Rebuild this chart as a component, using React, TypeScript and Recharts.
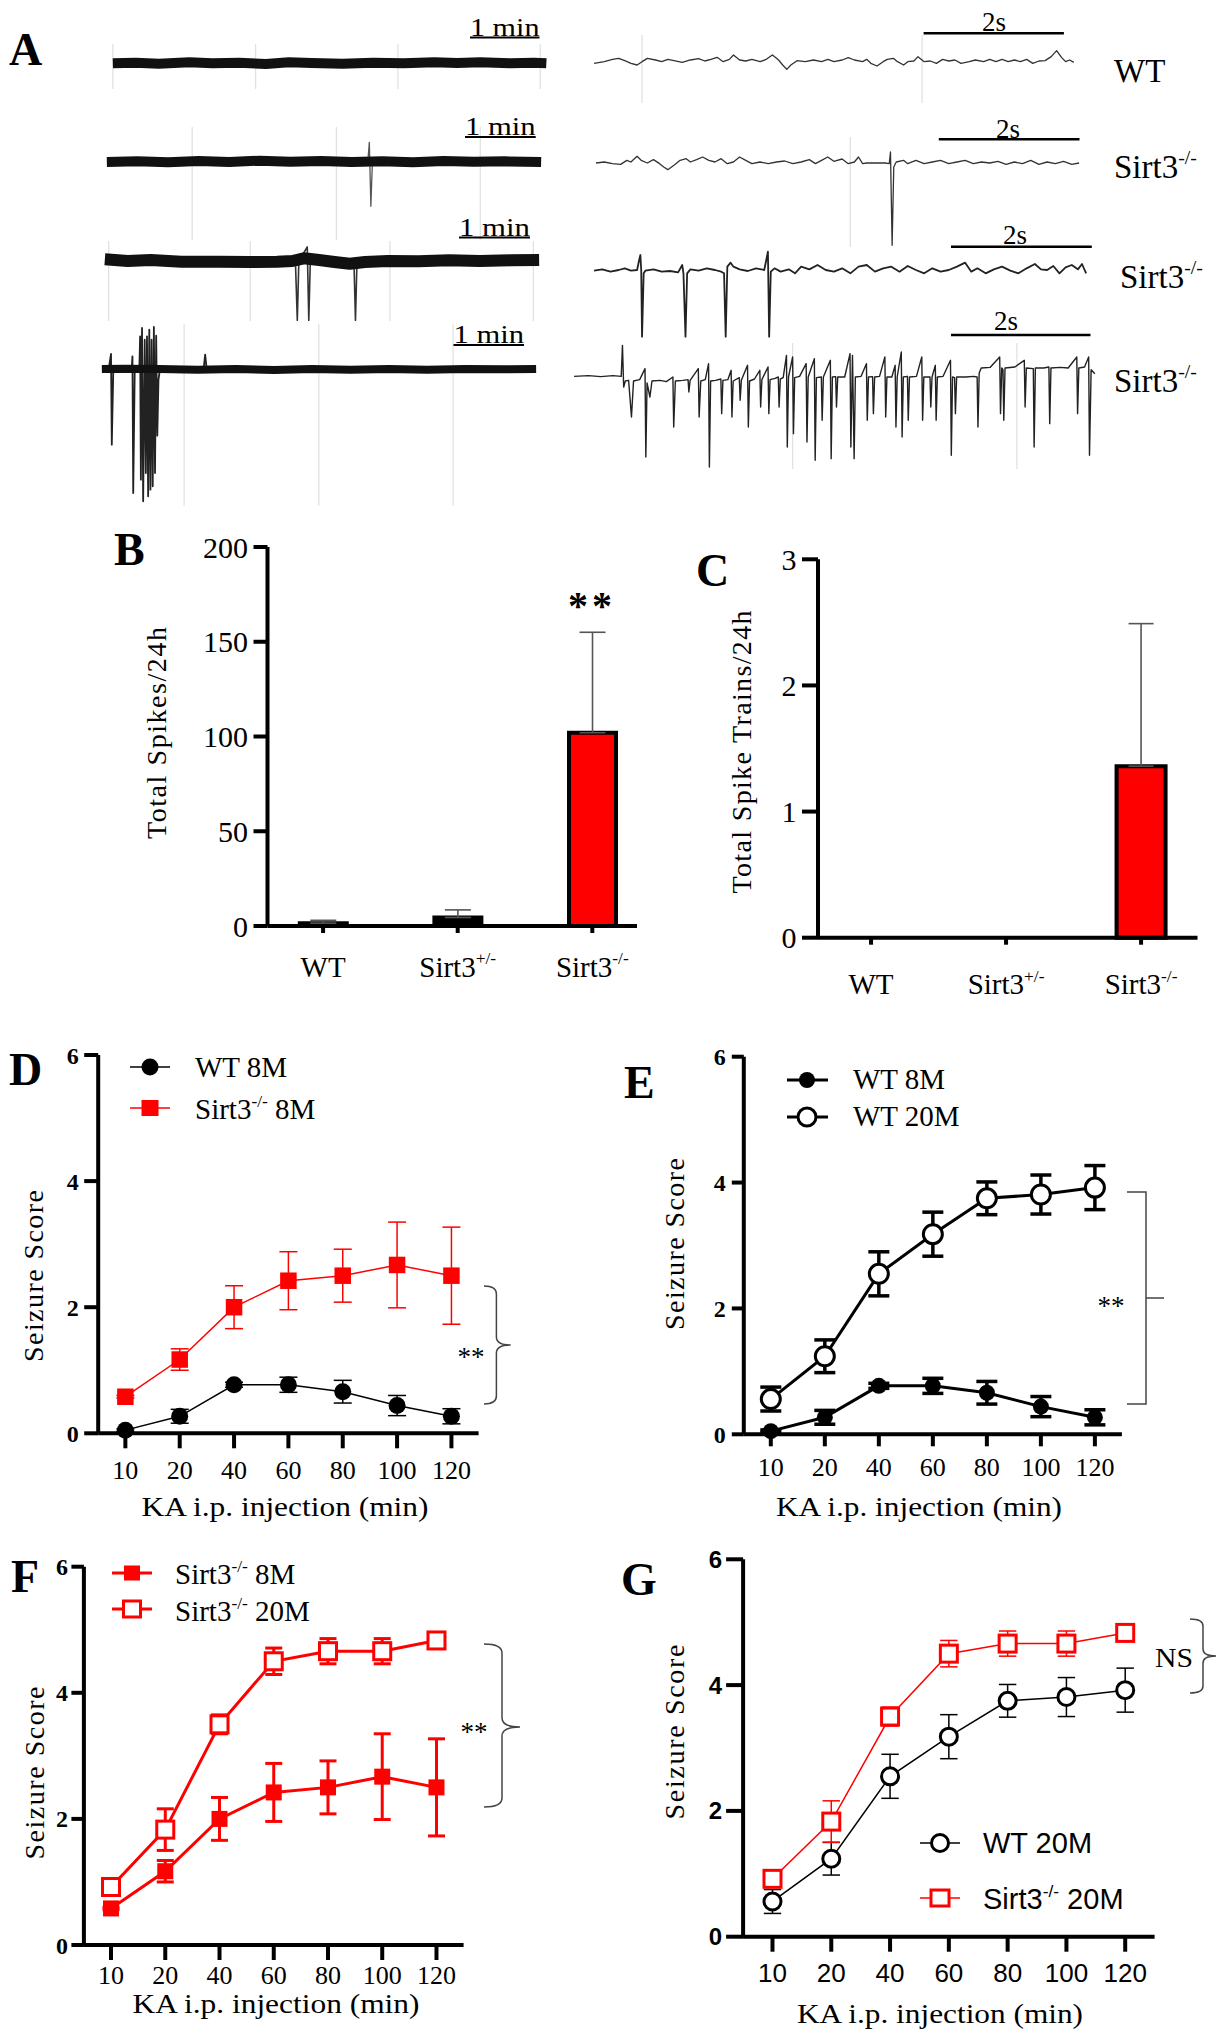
import React from 'react';
import { LineChart, Line, BarChart, Bar, XAxis, YAxis, ErrorBar, ReferenceLine, Cell } from 'recharts';

type Pt = [number, number];

const SERIF = '"Liberation Serif", "Times New Roman", Times, serif';
const SANS = '"Liberation Sans", Arial, Helvetica, sans-serif';
const RED = '#ff0000';

// ---------------- Panel A: EEG traces, samples ----------------
// [time, amplitude] in figure sample units, amplitude positive = up
const longWt: Pt[] = [[0,0],[60,2],[120,-1],[200,3],[260,0],[330,2],[400,-2],[460,3],[520,1],[600,-1],[680,2],[760,0],[840,3],[900,1],[960,3],[1040,0],[1100,2],[1133,0]];
const longKoA: Pt[] = [[0,0],[80,2],[160,-1],[240,3],[320,0],[400,4],[480,1],[560,3],[640,0],[720,2],[800,-1],[880,3],[960,1],[1040,2],[1135,0]];
const longKoASpikes: Pt[] = [[682,0],[686,59],[690,-133],[694,0]];
const longKoB: Pt[] = [[0,5],[60,0],[120,3],[200,-2],[300,-2],[380,-3],[450,-2],[490,0],[520,8],[560,3],[600,-3],[640,-8],[680,-3],[740,0],[820,-1],[900,2],[980,0],[1060,2],[1135,3]];
const longKoBSpikes: Pt[] = [[498,0],[503,-178],[507,0],[529,42],[533,-178],[537,0],[651,0],[655,-178],[659,0]];
const longKoC: Pt[] = [[0,0],[60,1],[150,0],[250,-2],[350,0],[450,-3],[550,0],[650,-2],[750,0],[850,-2],[950,0],[1050,-1],[1135,0]];
const longKoCSpikes: Pt[] = [[18,0],[24,45],[26,-227],[30,0],[78,0],[80,38],[82,-372],[86,0],[98,0],[100,98],[102,-332],[105,123],[108,-397],[112,88],[115,-312],[118,98],[121,-382],[124,118],[127,-362],[130,88],[133,-352],[136,126],[139,-312],[142,100],[145,-200],[148,-32],[152,0],[266,0],[270,43],[274,0]];

const fastWt: Pt[] = [[0,-5],[25,0],[45,7],[60,10],[75,3],[90,-5],[105,-10],[117,0],[130,10],[150,5],[165,0],[180,7],[195,3],[215,-2],[235,5],[255,9],[270,2],[285,7],[300,13],[315,0],[330,7],[340,20],[355,5],[370,2],[385,7],[405,0],[420,7],[435,20],[450,5],[460,-10],[470,-23],[480,-10],[495,3],[515,0],[535,5],[555,0],[570,7],[585,0],[605,5],[620,12],[635,5],[655,0],[665,7],[675,-5],[690,-13],[705,0],[715,7],[730,10],[740,0],[755,-10],[765,0],[780,2],[790,15],[805,0],[820,2],[835,-5],[850,7],[865,2],[880,5],[895,-5],[915,0],[930,5],[950,0],[965,7],[980,0],[995,7],[1010,0],[1025,5],[1040,0],[1055,7],[1070,-5],[1085,2],[1100,3],[1115,15],[1128,33],[1140,13],[1150,0],[1160,5],[1170,-2]];
const fastKoA: Pt[] = [[0,2],[20,5],[40,0],[60,-2],[75,10],[85,5],[100,22],[110,10],[125,2],[140,12],[155,0],[165,-10],[175,-18],[190,-5],[205,10],[220,15],[230,5],[245,12],[260,20],[275,10],[290,5],[305,15],[320,0],[335,5],[350,20],[365,10],[380,0],[400,5],[420,0],[440,5],[460,8],[480,0],[500,5],[520,12],[535,0],[550,10],[565,20],[580,7],[600,14],[615,0],[630,5],[640,20],[650,0],[660,2],[680,2],[705,2],[715,0],[718,35],[722,-245],[726,-10],[732,5],[750,10],[760,0],[780,10],[800,0],[820,5],[840,10],[860,0],[880,5],[900,10],[920,0],[940,5],[960,2],[980,7],[1000,-2],[1020,5],[1040,0],[1060,10],[1080,-2],[1100,5],[1120,0],[1140,7],[1160,-2],[1178,2]];
const fastKoB: Pt[] = [[0,-2],[20,2],[40,-5],[60,0],[75,5],[90,-2],[105,0],[110,30],[113,45],[115,0],[117,-200],[121,-10],[125,-2],[145,2],[165,-5],[185,-3],[205,-7],[215,15],[218,-10],[223,-200],[227,-10],[235,2],[255,-2],[275,5],[295,0],[310,-5],[317,-10],[321,-200],[325,10],[333,22],[340,10],[355,2],[375,-3],[395,5],[415,0],[420,30],[424,55],[427,-200],[431,-5],[440,5],[455,-5],[475,2],[490,-10],[505,10],[525,2],[545,15],[565,0],[585,-5],[605,5],[625,-10],[645,10],[665,15],[685,-5],[705,5],[725,10],[745,-5],[765,12],[785,0],[805,-10],[825,5],[845,-5],[865,0],[885,10],[905,22],[920,-5],[935,5],[955,-10],[975,2],[995,10],[1015,-2],[1035,-10],[1055,5],[1075,18],[1090,2],[1105,0],[1120,12],[1135,-10],[1150,8],[1165,15],[1180,2],[1190,18],[1200,-10]];
const fastKoC: Pt[] = [[-15,0],[20,2],[50,-1],[80,2],[100,0],[103,93],[106,-32],[110,-14],[118,-12],[125,-122],[130,-14],[145,-10],[158,23],[160,-242],[163,-20],[170,-62],[175,-14],[195,-12],[210,-16],[226,-2],[228,-152],[232,-14],[250,-12],[263,-10],[265,-47],[268,-12],[288,23],[290,-122],[294,-14],[305,-10],[313,38],[315,-272],[318,-14],[330,-12],[343,-8],[345,-112],[348,-12],[360,-10],[368,18],[370,-122],[373,-14],[388,-4],[390,-72],[393,-12],[408,33],[410,-152],[413,-14],[425,-8],[438,18],[440,-92],[443,-10],[458,28],[460,-112],[463,-10],[475,-6],[483,-2],[485,-92],[488,-8],[495,-4],[503,63],[505,-212],[508,-2],[518,58],[520,-172],[523,-4],[535,0],[551,38],[553,-197],[556,-2],[571,53],[573,-252],[576,-4],[588,-2],[590,-132],[593,-2],[610,48],[612,-247],[615,-2],[623,-1],[625,-92],[628,-2],[645,-2],[658,68],[660,-212],[664,63],[668,-247],[671,-2],[685,0],[698,38],[700,-132],[703,-2],[713,-1],[715,-112],[718,-2],[730,0],[743,58],[745,-122],[748,-2],[760,-2],[768,33],[770,-152],[773,-2],[783,73],[785,-182],[788,-2],[798,0],[800,-132],[803,-2],[820,0],[833,58],[835,-132],[838,-2],[853,-2],[855,-92],[858,-2],[866,33],[868,-132],[871,-2],[885,0],[903,48],[905,-237],[908,-2],[913,-4],[915,-112],[918,-2],[940,-2],[960,0],[968,-2],[970,-152],[973,10],[978,25],[1000,27],[1023,58],[1025,-112],[1028,25],[1031,20],[1033,-132],[1036,25],[1060,28],[1083,48],[1085,-92],[1088,25],[1105,23],[1107,-212],[1110,25],[1130,25],[1143,28],[1145,-142],[1148,25],[1170,27],[1190,25],[1211,58],[1213,-112],[1216,25],[1230,28],[1240,58],[1242,-237],[1246,20],[1255,8]];

// ---------------- Panels B / C ----------------
const genoBase = ['WT', 'Sirt3', 'Sirt3'];
const genoSup = ['', '+/-', '-/-'];
const genoPos = [1, 2, 3];
const spikesMean = [1.5, 4.5, 102];
const spikesErr = [1.5, 4, 53];
const trainsMean = [0, 0, 1.36];
const trainsErr = [0, 0, 1.13];
const barFill = ['#000000', '#000000', RED];
const spikeTicks = [0, 50, 100, 150, 200];
const trainTicks = [0, 1, 2, 3];

// ---------------- Panels D–G ----------------
const kaMinutes = ['10', '20', '40', '60', '80', '100', '120'];
const scoreTicks = [0, 2, 4, 6];
const wt8m = [0.05, 0.27, 0.77, 0.77, 0.66, 0.44, 0.27];
const wt8mErr = [0.02, 0.11, 0.04, 0.12, 0.18, 0.16, 0.12];
const ko8m = [0.58, 1.17, 2.0, 2.42, 2.5, 2.67, 2.5];
const ko8mErr = [0.02, 0.17, 0.34, 0.46, 0.42, 0.68, 0.77];
const wt20m = [0.56, 1.24, 2.55, 3.18, 3.75, 3.81, 3.92];
const wt20mErr = [0.19, 0.26, 0.35, 0.35, 0.26, 0.31, 0.35];
const ko20m = [0.92, 1.83, 3.5, 4.5, 4.66, 4.66, 4.83];
const ko20mErr = [0.08, 0.33, 0.15, 0.21, 0.2, 0.2, 0.12];

const toRows = (pts: Pt[]) => pts.map(([t, v]) => ({ t, v }));
const AX = { stroke: '#000', strokeWidth: 4 };

// layout of each EEG trace: origin (px) of time 0 / baseline, horizontal and vertical units per px
const LFX = 2.6133;
const RFX = 2.4386;
const traces = [
  { ox: 112.9, oy: 63.3, fx: LFX, xd: [-10, 1145], yd: [-78, 58], grid: [0, 373, 745, 1117], series: [{ d: longWt, c: '#111', w: 10 }] },
  { ox: 107.1, oy: 162.3, fx: LFX, xd: [-10, 1145], yd: [-235, 105], grid: [223, 600, 976], series: [{ d: longKoASpikes, c: '#555', w: 1.3 }, { d: longKoA, c: '#111', w: 10 }] },
  { ox: 105.2, oy: 260.7, fx: LFX, xd: [-10, 1145], yd: [-182, 60], grid: [10, 380, 745, 1120], series: [{ d: longKoBSpikes, c: '#333', w: 1.6 }, { d: longKoB, c: '#111', w: 12 }] },
  { ox: 101.4, oy: 369.3, fx: LFX, xd: [-10, 1145], yd: [-410, 135], grid: [215, 567, 918], series: [{ d: longKoCSpikes, c: '#222', w: 1.8 }, { d: longKoC, c: '#111', w: 8 }] },
  { ox: 594.4, oy: 61.7, fx: RFX, xd: [-5, 1175], yd: [-125, 80], grid: [117, 800], series: [{ d: fastWt, c: '#333', w: 1.3 }] },
  { ox: 596.4, oy: 163.3, fx: RFX, xd: [-5, 1185], yd: [-250, 80], grid: [620], series: [{ d: fastKoA, c: '#333', w: 1.3 }] },
  { ox: 594.4, oy: 270, fx: RFX, xd: [-5, 1205], yd: [-205, 60], grid: [], series: [{ d: fastKoB, c: '#222', w: 1.8 }] },
  { ox: 580, oy: 376, fx: RFX, xd: [-20, 1260], yd: [-280, 100], grid: [518, 1065], series: [{ d: fastKoC, c: '#222', w: 1.4 }] },
];

function TraceChart({ ox, oy, fx, xd, yd, grid, series }: any) {
  const left = ox + xd[0] / fx;
  const width = (xd[1] - xd[0]) / fx;
  const top = oy - yd[1] / 3;
  const height = (yd[1] - yd[0]) / 3;
  return (
    <div style={{ position: 'absolute', left, top, width, height }}>
      <LineChart width={width} height={height} margin={{ top: 0, right: 0, bottom: 0, left: 0 }}>
        <XAxis type="number" dataKey="t" domain={xd} hide />
        <YAxis type="number" dataKey="v" domain={yd} hide />
        {grid.map((g: number, i: number) => (
          <ReferenceLine key={'g' + i} x={g} stroke="#e2e2e2" strokeWidth={1.3} />
        ))}
        {series.map((s: any, i: number) => (
          <Line key={'s' + i} data={toRows(s.d)} dataKey="v" type="linear" stroke={s.c} strokeWidth={s.w}
            dot={false} activeDot={false} isAnimationActive={false} strokeLinejoin="round" />
        ))}
      </LineChart>
    </div>
  );
}

function GenoTick(props: any) {
  const { x, y, payload } = props;
  const k = genoPos.indexOf(payload.value);
  const s = 29;
  if (k < 0) return null;
  return (
    <text x={x} y={y + 0.71 * s} textAnchor="middle" fontSize={s} fontFamily={SERIF} fill="#000">
      {genoBase[k]}
      {genoSup[k] ? <tspan dy={-0.42 * s} fontSize={0.6 * s}>{genoSup[k]}</tspan> : null}
    </text>
  );
}

function BarPanel({ left, top, width, height, plot, xDomain, yDomain, yTicks, ySize, yMargin, xMargin, means, errs, barSize, cap }: any) {
  const rows = genoPos.map((p, k) => ({ i: p, v: means[k], e: errs[k] > 0 ? [0, errs[k]] : null }));
  return (
    <div style={{ position: 'absolute', left, top, width, height }}>
      <BarChart width={width} height={height} data={rows}
        margin={{ top: plot[2], left: 0, right: width - plot[1], bottom: height - plot[3] - 60 }}>
        <XAxis type="number" dataKey="i" domain={xDomain} ticks={genoPos} interval={0} height={60}
          tickSize={7} tickMargin={xMargin} tick={(p: any) => <GenoTick {...p} />} tickLine={AX} axisLine={AX} />
        <YAxis type="number" domain={yDomain} ticks={yTicks} interval={0} width={plot[0]}
          tickSize={ySize} tickMargin={yMargin} tick={{ fontSize: 30, fontFamily: SERIF, fill: '#000' }}
          tickLine={AX} axisLine={AX} />
        <Bar dataKey="v" barSize={barSize} stroke="#000" strokeWidth={4} isAnimationActive={false}>
          {rows.map((r, k) => <Cell key={'c' + k} fill={barFill[k]} />)}
          <ErrorBar dataKey="e" direction="y" width={cap} stroke="#555" strokeWidth={1.6} />
        </Bar>
      </BarChart>
    </div>
  );
}

const circleDot = (r: number, fill: string, stroke: string, sw: number) => (p: any) =>
  p.cx == null ? null : <circle key={'c' + p.index} cx={p.cx} cy={p.cy} r={r} fill={fill} stroke={stroke} strokeWidth={sw} />;
const squareDot = (side: number, fill: string, stroke: string, sw: number) => (p: any) =>
  p.cx == null ? null : <rect key={'q' + p.index} x={p.cx - side / 2} y={p.cy - side / 2} width={side} height={side} fill={fill} stroke={stroke} strokeWidth={sw} />;

function ScoreChart({ left, top, width, height, plot, yt, xt, a, aErr, b, bErr, la, lb }: any) {
  const rows = kaMinutes.map((_, i) => ({ i, a: a[i], aErr: aErr[i], b: b[i], bErr: bErr[i] }));
  const specs = [{ key: 'a', err: 'aErr', ...la }, { key: 'b', err: 'bErr', ...lb }];
  return (
    <div style={{ position: 'absolute', left, top, width, height }}>
      <LineChart width={width} height={height} data={rows}
        margin={{ top: plot[2], left: 0, right: width - plot[1], bottom: height - plot[3] - 60 }}>
        <XAxis type="number" dataKey="i" domain={[-0.5, 6.5]} ticks={[0, 1, 2, 3, 4, 5, 6]} interval={0} height={60}
          tickFormatter={(v: number) => kaMinutes[v]} tickSize={xt.size} tickMargin={xt.margin}
          tick={{ fontSize: xt.fs, fontFamily: xt.font, fill: '#000' }} tickLine={AX} axisLine={AX} />
        <YAxis type="number" domain={[0, 6]} ticks={scoreTicks} interval={0} width={plot[0]}
          tickSize={yt.size} tickMargin={yt.margin}
          tick={{ fontSize: yt.fs, fontFamily: yt.font, fontWeight: 700, fill: '#000' }} tickLine={AX} axisLine={AX} />
        {specs.map((l: any) => (
          <Line key={l.key} dataKey={l.key} type="linear" stroke={l.color} strokeWidth={l.width} dot={l.dot}
            activeDot={false} isAnimationActive={false}>
            <ErrorBar dataKey={l.err} direction="y" width={l.cap} stroke={l.color} strokeWidth={l.ew} />
          </Line>
        ))}
      </LineChart>
    </div>
  );
}

function Sirt({ x, y, s, sup, rest, family = SERIF }: any) {
  return (
    <text x={x} y={y} fontSize={s} fontFamily={family} fill="#000">
      Sirt3<tspan dy={-0.42 * s} fontSize={0.6 * s}>{sup}</tspan>
      {rest ? <tspan dy={0.42 * s}>{rest}</tspan> : null}
    </text>
  );
}

function VTitle({ cx, cy, len, s, text }: any) {
  return (
    <text transform={`translate(${cx},${cy}) rotate(-90)`} textAnchor="middle" dominantBaseline="central"
      fontSize={s} fontFamily={SERIF} fill="#000" textLength={len} lengthAdjust="spacing">{text}</text>
  );
}

function HTitle({ cx, y, len, s, text }: any) {
  return (
    <text x={cx} y={y} textAnchor="middle" fontSize={s} fontFamily={SERIF} fill="#000" textLength={len} lengthAdjust="spacingAndGlyphs">{text}</text>
  );
}

const brace = (xL: number, xV: number, xT: number, yT: number, yM: number, yB: number, r: number) =>
  `M${xL},${yT} Q${xV},${yT} ${xV},${yT + r} L${xV},${yM - r} Q${xV},${yM} ${xT},${yM} Q${xV},${yM} ${xV},${yM + r} L${xV},${yB - r} Q${xV},${yB} ${xL},${yB}`;

function Overlay() {
  const L = (t: string, x: number, y: number) => (
    <text x={x} y={y} fontSize={46} fontWeight={700} fontFamily={SERIF} fill="#000">{t}</text>
  );
  const minBars = [[470, 539.5, 37.5], [465, 535.7, 137], [459, 530, 237.5], [453.5, 524, 345]];
  const secBars = [[923.6, 1063.9, 33.3, 994, 31], [938.8, 1079.5, 139.3, 1008, 138], [951, 1091.8, 246.7, 1015, 244], [951, 1090.5, 335, 1006, 330]];
  return (
    <svg width={1223} height={2040} style={{ position: 'absolute', left: 0, top: 0, pointerEvents: 'none' }}>
      {L('A', 9, 65)}
      {L('B', 114, 565)}
      {L('C', 696, 586)}
      {L('D', 9, 1085)}
      {L('E', 624, 1098)}
      {L('F', 11, 1592)}
      {L('G', 621, 1595)}

      {minBars.map(([x1, x2, y], k) => (
        <g key={'m' + k}>
          <line x1={x1} x2={x2} y1={y} y2={y} stroke="#000" strokeWidth={2} />
          <text x={x1} y={y - 2} fontSize={25} fontFamily={SERIF} fill="#000" textLength={x2 - x1} lengthAdjust="spacingAndGlyphs">1 min</text>
        </g>
      ))}
      {secBars.map(([x1, x2, y, tx, ty], k) => (
        <g key={'s' + k}>
          <line x1={x1} x2={x2} y1={y} y2={y} stroke="#000" strokeWidth={2.6} />
          <text x={tx} y={ty} textAnchor="middle" fontSize={27} fontFamily={SERIF} fill="#000">2s</text>
        </g>
      ))}
      <text x={1114} y={82} fontSize={33} fontFamily={SERIF} fill="#000">WT</text>
      <Sirt x={1114} y={178} s={33} sup="-/-" />
      <Sirt x={1120} y={288} s={33} sup="-/-" />
      <Sirt x={1114} y={392} s={33} sup="-/-" />

      {/* B / C titles */}
      <VTitle cx={156} cy={733} len={212} s={28} text="Total Spikes/24h" />
      <VTitle cx={741} cy={752} len={283} s={28} text="Total Spike Trains/24h" />
      <text x={592} y={619} textAnchor="middle" fontSize={40} fontWeight={700} fontFamily={SERIF} letterSpacing={4} fill="#000">**</text>

      {/* D */}
      <VTitle cx={33} cy={1276} len={172} s={28} text="Seizure Score" />
      <HTitle cx={285} y={1516} len={287} s={28} text="KA i.p. injection (min)" />
      <line x1={130} x2={170} y1={1067} y2={1067} stroke="#000" strokeWidth={1.5} />
      <circle cx={150} cy={1067} r={8.5} fill="#000" />
      <text x={195} y={1077} fontSize={29} fontFamily={SERIF} fill="#000">WT 8M</text>
      <line x1={130} x2={170} y1={1108} y2={1108} stroke={RED} strokeWidth={1.5} />
      <rect x={141.5} y={1100} width={17} height={16} fill={RED} />
      <Sirt x={195} y={1119} s={29} sup="-/-" rest={'\u00a08M'} />
      <path d={brace(484, 496.4, 510.7, 1286, 1345, 1404, 8)} fill="none" stroke="#444" strokeWidth={1.5} />
      <text x={471} y={1366} textAnchor="middle" fontSize={27} fontFamily={SERIF} fill="#000">**</text>

      {/* E */}
      <VTitle cx={674} cy={1244} len={172} s={28} text="Seizure Score" />
      <HTitle cx={919} y={1516} len={286} s={28} text="KA i.p. injection (min)" />
      <line x1={787} x2={828} y1={1080} y2={1080} stroke="#000" strokeWidth={3} />
      <circle cx={807} cy={1080} r={8} fill="#000" />
      <text x={853} y={1089} fontSize={29} fontFamily={SERIF} fill="#000">WT 8M</text>
      <line x1={787} x2={828} y1={1117} y2={1117} stroke="#000" strokeWidth={3} />
      <circle cx={807} cy={1117} r={9} fill="#fff" stroke="#000" strokeWidth={3} />
      <text x={853} y={1126} fontSize={29} fontFamily={SERIF} fill="#000">WT 20M</text>
      <path d={`M1127,1192 L1146,1192 L1146,1404 L1127,1404 M1146,1298 L1164,1298`} fill="none" stroke="#444" strokeWidth={1.5} />
      <text x={1111} y={1315} textAnchor="middle" fontSize={27} fontFamily={SERIF} fill="#000">**</text>

      {/* F */}
      <VTitle cx={34} cy={1773} len={173} s={28} text="Seizure Score" />
      <HTitle cx={276} y={2013} len={287} s={28} text="KA i.p. injection (min)" />
      <line x1={112} x2={152} y1={1573} y2={1573} stroke={RED} strokeWidth={3} />
      <rect x={124} y={1565.5} width={16} height={15} fill={RED} />
      <Sirt x={175} y={1584} s={29} sup="-/-" rest={'\u00a08M'} />
      <line x1={112} x2={152} y1={1609} y2={1609} stroke={RED} strokeWidth={3} />
      <rect x={123.5} y={1601} width={17} height={16} fill="#fff" stroke={RED} strokeWidth={3} />
      <Sirt x={175} y={1621} s={29} sup="-/-" rest={'\u00a020M'} />
      <path d={brace(484, 502, 520, 1644, 1727, 1807, 9)} fill="none" stroke="#444" strokeWidth={1.5} />
      <text x={474} y={1741} textAnchor="middle" fontSize={27} fontFamily={SERIF} fill="#000">**</text>

      {/* G */}
      <VTitle cx={674} cy={1732} len={175} s={28} text="Seizure Score" />
      <HTitle cx={940} y={2023} len={286} s={28} text="KA i.p. injection (min)" />
      <line x1={920} x2={960} y1={1843} y2={1843} stroke="#000" strokeWidth={1.5} />
      <circle cx={940} cy={1843} r={8.5} fill="#fff" stroke="#000" strokeWidth={3} />
      <text x={983} y={1853} fontSize={29} fontFamily={SANS} fill="#000">WT 20M</text>
      <line x1={920} x2={960} y1={1898} y2={1898} stroke={RED} strokeWidth={1.5} />
      <rect x={931} y={1890} width={18} height={16} fill="#fff" stroke={RED} strokeWidth={3} />
      <Sirt x={983} y={1909} s={29} sup="-/-" rest={'\u00a020M'} family={SANS} />
      <path d={brace(1190, 1203, 1216, 1619, 1656, 1693, 7)} fill="none" stroke="#444" strokeWidth={1.5} />
      <text x={1155} y={1667} fontSize={28} fontFamily={SERIF} fill="#000" textLength={38} lengthAdjust="spacingAndGlyphs">NS</text>
    </svg>
  );
}

export default function App() {
  return (
    <div style={{ position: 'absolute', left: 0, top: 0, width: 1223, height: 2040, background: '#fff', overflow: 'hidden', fontFamily: SERIF }}>
      {traces.map((t, k) => <TraceChart key={'tr' + k} {...t} />)}

      <BarPanel left={0} top={500} width={660} height={520} plot={[267.5, 637, 47, 426]} xDomain={[0.587, 3.332]}
        yDomain={[0, 200]} yTicks={spikeTicks} ySize={14} yMargin={5.5} xMargin={23}
        means={spikesMean} errs={spikesErr} barSize={47} cap={13} />
      <BarPanel left={660} top={500} width={563} height={520} plot={[158, 537.5, 59.3, 437.7]} xDomain={[0.607, 3.418]}
        yDomain={[0, 3]} yTicks={trainTicks} ySize={16} yMargin={5.5} xMargin={28.5}
        means={trainsMean} errs={trainsErr} barSize={49} cap={12.5} />

      <ScoreChart left={0} top={1030} width={560} height={500} plot={[98.2, 478.6, 25, 403.3]}
        yt={{ size: 14, margin: 5.5, fs: 24, font: SERIF }} xt={{ size: 15, margin: 12, fs: 26, font: SERIF }}
        a={wt8m} aErr={wt8mErr} b={ko8m} bErr={ko8mErr}
        la={{ color: '#000', width: 1.5, dot: circleDot(8.5, '#000', '#000', 0), cap: 9, ew: 1.5 }}
        lb={{ color: RED, width: 1.5, dot: squareDot(16.5, RED, RED, 0), cap: 9, ew: 1.5 }} />

      <ScoreChart left={620} top={1030} width={603} height={500} plot={[123.8, 501.9, 26.7, 404.3]}
        yt={{ size: 12, margin: 6, fs: 24, font: SERIF }} xt={{ size: 12, margin: 10.8, fs: 26, font: SERIF }}
        a={wt8m} aErr={wt8mErr} b={wt20m} bErr={wt20mErr}
        la={{ color: '#000', width: 3, dot: circleDot(8, '#000', '#000', 0), cap: 10.5, ew: 3.5 }}
        lb={{ color: '#000', width: 3, dot: circleDot(9.5, '#fff', '#000', 3), cap: 10.5, ew: 3.5 }} />

      <ScoreChart left={0} top={1520} width={560} height={520} plot={[83.9, 463.6, 46.7, 425]}
        yt={{ size: 12.5, margin: 3.5, fs: 24, font: SERIF }} xt={{ size: 15, margin: 5.4, fs: 26, font: SERIF }}
        a={ko8m} aErr={ko8mErr} b={ko20m} bErr={ko20mErr}
        la={{ color: RED, width: 3, dot: squareDot(16, RED, RED, 0), cap: 8.5, ew: 3 }}
        lb={{ color: RED, width: 3, dot: squareDot(17, '#fff', RED, 3), cap: 8.5, ew: 3 }} />

      <ScoreChart left={620} top={1520} width={603} height={520} plot={[123.1, 534.6, 39.3, 416.7]}
        yt={{ size: 17, margin: 4, fs: 24, font: SANS }} xt={{ size: 15, margin: 12.2, fs: 26, font: SANS }}
        a={wt20m} aErr={wt20mErr} b={ko20m} bErr={ko20mErr}
        la={{ color: '#000', width: 1.5, dot: circleDot(8.5, '#fff', '#000', 3), cap: 8.7, ew: 1.5 }}
        lb={{ color: RED, width: 1.5, dot: squareDot(17, '#fff', RED, 3), cap: 8.7, ew: 1.5 }} />

      <Overlay />
    </div>
  );
}
